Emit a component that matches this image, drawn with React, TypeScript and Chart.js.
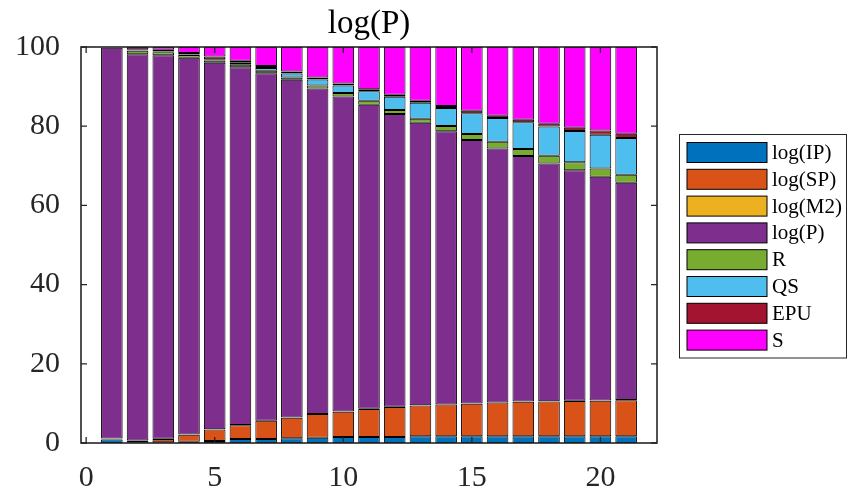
import React, { useEffect, useRef } from "react";
import { Chart, registerables } from "chart.js";

Chart.register(...registerables);

const bars = [1, 2, 3, 4, 5, 6, 7, 8, 9, 10, 11, 12, 13, 14, 15, 16, 17, 18, 19, 20, 21];
const seriesNames = ["log(IP)", "log(SP)", "log(M2)", "log(P)", "R", "QS", "EPU", "S"];
const seriesColors = ["#0072BD", "#D95319", "#EDB120", "#7E2F8E", "#77AC30", "#4DBEEE", "#A2142F", "#FF00FF"];

const logIP = [0.9, 0.2, 0.2, 0.3, 0.5, 1.0, 1.0, 1.2, 1.35, 1.5, 1.5, 1.5, 1.7, 1.7, 1.7, 1.7, 1.7, 1.7, 1.7, 1.7, 1.7];
const logSP = [0.2, 0.4, 0.8, 1.8, 2.9, 3.5, 4.6, 5.2, 5.95, 6.4, 7.1, 7.6, 7.8, 8.0, 8.2, 8.5, 8.7, 8.8, 8.9, 9.0, 9.1];
const logM2 = [0.05, 0.05, 0.05, 0.05, 0.05, 0.05, 0.05, 0.05, 0.05, 0.05, 0.05, 0.05, 0.05, 0.05, 0.05, 0.05, 0.05, 0.05, 0.05, 0.05, 0.05];
const logP = [98.65, 97.55, 96.85, 95.15, 92.55, 90.35, 87.75, 85.25, 82.15, 79.55, 76.75, 73.95, 71.35, 68.95, 66.55, 64.15, 62.05, 60.05, 58.25, 56.5, 54.85];
const R = [0.05, 0.85, 0.8, 0.65, 0.6, 0.6, 0.6, 0.6, 0.8, 0.9, 1.0, 1.0, 1.0, 1.35, 1.5, 1.7, 1.75, 1.95, 2.0, 2.05, 2.05];
const QS = [0.05, 0.1, 0.15, 0.15, 0.3, 0.5, 0.7, 1.0, 1.5, 1.9, 2.4, 3.35, 4.0, 4.55, 5.25, 6.0, 6.75, 7.35, 7.9, 8.55, 9.25];
const EPU = [0.05, 0.3, 0.45, 0.4, 0.7, 0.5, 0.5, 0.5, 0.5, 0.5, 0.5, 0.5, 0.5, 0.5, 0.65, 0.55, 0.65, 0.7, 0.8, 1.05, 1.1];
const S = [0.05, 0.55, 0.7, 1.5, 2.4, 3.5, 4.8, 6.2, 7.7, 9.2, 10.7, 12.05, 13.6, 14.9, 16.1, 17.35, 18.35, 19.4, 20.4, 21.1, 21.9];

const xTicks = [0, 5, 10, 15, 20];
const yTicks = [0, 20, 40, 60, 80, 100];
const titleText = "log(P)";

const SERIF = "'Liberation Serif', 'Times New Roman', serif";
const AXIS_COLOR = "#262626";

const overlayPlugin = {
  id: "matlabOverlay",
  afterDraw(chart: any) {
    const ctx = chart.ctx as CanvasRenderingContext2D;
    const { left, right, top, bottom } = chart.chartArea;
    const xs = chart.scales.x;
    const ys = chart.scales.y;
    ctx.save();
    // box
    ctx.strokeStyle = AXIS_COLOR;
    ctx.lineWidth = 1.6;
    ctx.strokeRect(left, top, right - left, bottom - top);
    // inner ticks
    const tl = 6;
    ctx.lineWidth = 1.3;
    ctx.beginPath();
    xTicks.forEach((t) => {
      const px = xs.getPixelForValue(t);
      ctx.moveTo(px, bottom);
      ctx.lineTo(px, bottom - tl);
      ctx.moveTo(px, top);
      ctx.lineTo(px, top + tl);
    });
    yTicks.forEach((t) => {
      const py = ys.getPixelForValue(t);
      ctx.moveTo(left, py);
      ctx.lineTo(left + tl, py);
      ctx.moveTo(right, py);
      ctx.lineTo(right - tl, py);
    });
    ctx.stroke();
    // title
    ctx.fillStyle = "#000";
    ctx.font = `33px ${SERIF}`;
    ctx.textAlign = "center";
    ctx.textBaseline = "alphabetic";
    ctx.fillText(titleText, (left + right) / 2, 33);
    // legend
    const lx = 679, ly = 134, lw = 167, lh = 223.5;
    ctx.fillStyle = "#fff";
    ctx.fillRect(lx, ly, lw, lh);
    ctx.strokeStyle = AXIS_COLOR;
    ctx.lineWidth = 1;
    ctx.strokeRect(lx + 0.5, ly + 0.5, lw, lh);
    ctx.font = `21px ${SERIF}`;
    ctx.textAlign = "left";
    ctx.textBaseline = "middle";
    seriesNames.forEach((name, i) => {
      const cy = 152.5 + i * 26.8;
      ctx.fillStyle = seriesColors[i];
      ctx.fillRect(687, cy - 10, 80, 20);
      ctx.strokeStyle = "#000";
      ctx.lineWidth = 1;
      ctx.strokeRect(687, cy - 10, 80, 20);
      ctx.fillStyle = "#000";
      ctx.fillText(name, 772, cy + 1);
    });
    ctx.restore();
  },
};

export default function App() {
  const canvasRef = useRef<HTMLCanvasElement | null>(null);

  useEffect(() => {
    const canvas = canvasRef.current;
    if (!canvas) return;
    const values = [logIP, logSP, logM2, logP, R, QS, EPU, S];
    const chart = new Chart(canvas, {
      type: "bar",
      data: {
        datasets: values.map((arr, k) => ({
          label: seriesNames[k],
          data: arr.map((v, i) => ({ x: bars[i], y: v })),
          backgroundColor: seriesColors[k],
          borderColor: "#000000",
          borderWidth: 1,
          borderSkipped: false,
          categoryPercentage: 1,
          barPercentage: 0.84,
        })),
      },
      options: {
        animation: false,
        responsive: false,
        maintainAspectRatio: false,
        devicePixelRatio: 1,
        layout: { padding: { top: 47, right: 194, left: 0, bottom: 0 } },
        plugins: {
          legend: { display: false },
          title: { display: false },
          tooltip: { enabled: false },
        },
        scales: {
          x: {
            type: "linear",
            stacked: true,
            offset: false,
            min: -0.2,
            max: 22.2,
            afterFit: (scale: any) => {
              scale.height = 47;
            },
            afterBuildTicks: (scale: any) => {
              scale.ticks = xTicks.map((v) => ({ value: v }));
            },
            grid: { display: false, offset: false },
            border: { display: false },
            ticks: {
              color: AXIS_COLOR,
              font: { family: SERIF, size: 30 },
              padding: 9,
              maxRotation: 0,
              autoSkip: false,
            },
          },
          y: {
            type: "linear",
            stacked: true,
            min: 0,
            max: 100,
            afterFit: (scale: any) => {
              scale.width = 81;
            },
            afterBuildTicks: (scale: any) => {
              scale.ticks = yTicks.map((v) => ({ value: v }));
            },
            grid: { display: false },
            border: { display: false },
            ticks: {
              color: AXIS_COLOR,
              font: { family: SERIF, size: 30 },
              padding: 13,
              autoSkip: false,
            },
          },
        },
      },
      plugins: [overlayPlugin],
    } as any);
    return () => chart.destroy();
  }, []);

  return (
    <div style={{ position: "fixed", left: 0, top: 0, width: 851, height: 490, background: "#fff" }}>
      <canvas ref={canvasRef} width={851} height={490} style={{ display: "block", width: 851, height: 490 }} />
    </div>
  );
}
